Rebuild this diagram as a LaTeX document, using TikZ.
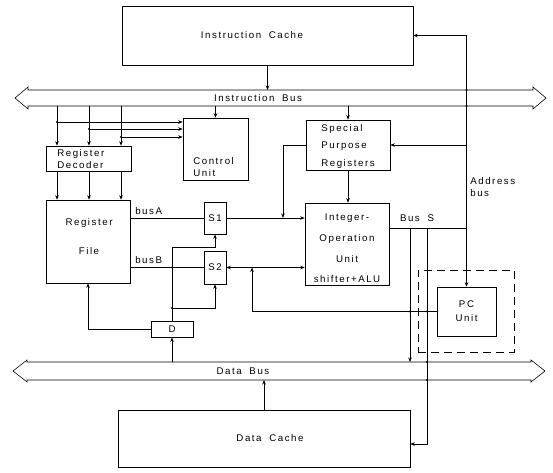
\documentclass[tikz,border=0pt]{standalone}
\usepackage{fontspec}
\newfontfamily\plotfont[LetterSpace=16,WordSpace=1.8]{Liberation Sans}
\usetikzlibrary{arrows.meta,positioning}

\begin{document}
\begin{tikzpicture}[x=1pt,y=-1pt,line width=0.6pt,
  >={Stealth[length=4.5pt,width=3.5pt]},
  font=\plotfont\fontsize{9.7}{12}\selectfont,
  blk/.style={draw,inner sep=0pt},
  txt/.style={inner sep=0pt,align=left},
  jn/.style={circle,fill,inner sep=0pt,minimum size=2.4pt}]
\useasboundingbox (0,0) rectangle (553,472);
% --- the two buses ---
\draw (15,98) -- (28,87) -- (28,90) -- (533,90) -- (533,87) -- (546,98)
   -- (533,109) -- (533,106) -- (28,106) -- (28,109) -- cycle;
\draw (13,371) -- (27,360) -- (27,362) -- (531,362) -- (531,360) -- (545,371)
   -- (531,382) -- (531,380) -- (27,380) -- (27,382) -- cycle;
\coordinate (ibt) at (0,90);  \coordinate (ibb) at (0,106);
\coordinate (dbt) at (0,362); \coordinate (dbb) at (0,380);
\node[txt] (ibl) at (258,98) {Instruction Bus};
\node[txt] (dbl) at (243,371) {Data Bus};
% --- blocks ---
\node[blk,minimum width=291pt,minimum height=59pt] (ic) at (267.5,35.5) {};
\node[txt] at (252,35.5) {Instruction Cache};
\node[blk,minimum width=85pt,minimum height=25pt] (rd) at (88.5,158.5) {};
\node[txt,anchor=west] at (57,159) {Register\\Decoder};
\node[blk,minimum width=65pt,minimum height=62pt] (cu) at (215.5,149) {};
\node[txt,anchor=west] at (193,167) {Control\\Unit};
\node[blk,minimum width=84pt,minimum height=83pt] (rf) at (88,241.5) {};
\node[txt,align=center] at (89,236.5) {Register\\[17pt]File};
\node[blk,minimum width=22pt,minimum height=32pt] (s1) at (215,218) {S1};
\node[blk,minimum width=22pt,minimum height=33pt] (s2) at (215,267.5) {S2};
\node[blk,minimum width=42pt,minimum height=16pt] (d) at (172,329) {D};
\node[blk,minimum width=84pt,minimum height=50pt] (spr) at (348,145) {};
\node[txt,anchor=west] at (321,146) {Special\\[5.5pt]Purpose\\[5.5pt]Registers};
\node[blk,minimum width=84pt,minimum height=82pt] (iou) at (347,244) {};
\node[txt,align=center] at (347,248.5)
     {Integer-\\[8.7pt]Operation\\[8.7pt]Unit\\[8.7pt]shifter+ALU};
\node[draw,dash pattern=on 8pt off 5pt,minimum width=96pt,minimum height=82pt] (pcgrp) at (466,311) {};
\node[blk,minimum width=59pt,minimum height=49pt,align=center] (pc) at (466.5,311.5) {PC\\[2pt]Unit};
\node[blk,minimum width=292pt,minimum height=57pt] (dc) at (264,438.5) {};
\node[txt] at (270,438) {Data Cache};
% --- labels on lines ---
\node[txt,anchor=base west] at (135,214) {busA};
\node[txt,anchor=base west] at (135,263) {busB};
\node[txt,anchor=base] at (417,221) {Bus S};
\node[txt,anchor=west] at (470,187) {Address\\bus};
% --- instruction side ---
\draw[->] (ic.south) -- (ic.south |- ibt);
\foreach \x/\y in {57/122,89/129,121/137} {
  \draw[->] (ibb -| \x,0) -- (rd.north -| \x,0);
  \draw[->] (\x,\y) -- (cu.west |- 0,\y);
  \node[jn] at (\x,\y) {};
  \draw[->] (rd.south -| \x,0) -- (rf.north -| \x,0);
}
\draw[->] (ibb -| cu.north) -- (cu.north);
\draw[->] (ibb -| spr.north) -- (spr.north);
\draw[->] (spr.south) -- (spr.south |- iou.north);
\draw[->] (spr.west) -| (s1.east -| 283,0);
% --- operand paths ---
\draw (rf.east |- s1.west) -- (s1.west);
\draw (rf.east |- s2.west) -- (s2.west);
\draw[->] (s1.east) -- (s1.east -| iou.west);
\draw[<->] (s2.east) -- (s2.east -| iou.west);
\draw[->] (d.north) |- (s1.south |- 0,247) -- (s1.south);
\node[jn] at (d.north |- s2.west) {};
\draw[->] (d.north |- 0,308) -| (s2.south);
\node[jn] at (d.north |- 0,308) {};
\draw[->] (d.west) -| (rf.south);
\draw[->] (dbt -| d.south) -- (d.south);
% --- result bus S and address bus ---
\coordinate (bsl) at (389,228);
\draw (bsl) -- (bsl -| pc.north);
\draw[->] (ic.east -| pc.north) -- (ic.east);
\draw[->] (ic.east -| pc.north) -- (pc.north);
\draw[->] (spr.east -| pc.north) -- (spr.east);
\node[jn] at (ibt -| pc.north) {}; \node[jn] at (ibb -| pc.north) {};
\draw[->] (bsl -| 410,0) -- (dbt -| 410,0);
\draw[->] (bsl -| 427,0) |- ([yshift=-5.5pt]dc.east);
\node[jn] at (dbt -| 427,0) {}; \node[jn] at (dbb -| 427,0) {};
\draw[->] (pc.west) -| (s2.east -| 252,0);
\node[jn] at (pc.west -| 410,0) {}; \node[jn] at (pc.west -| 427,0) {};
% --- data side ---
\draw[->] (dc.north) -- (dc.north |- dbb);
\end{tikzpicture}
\end{document}
